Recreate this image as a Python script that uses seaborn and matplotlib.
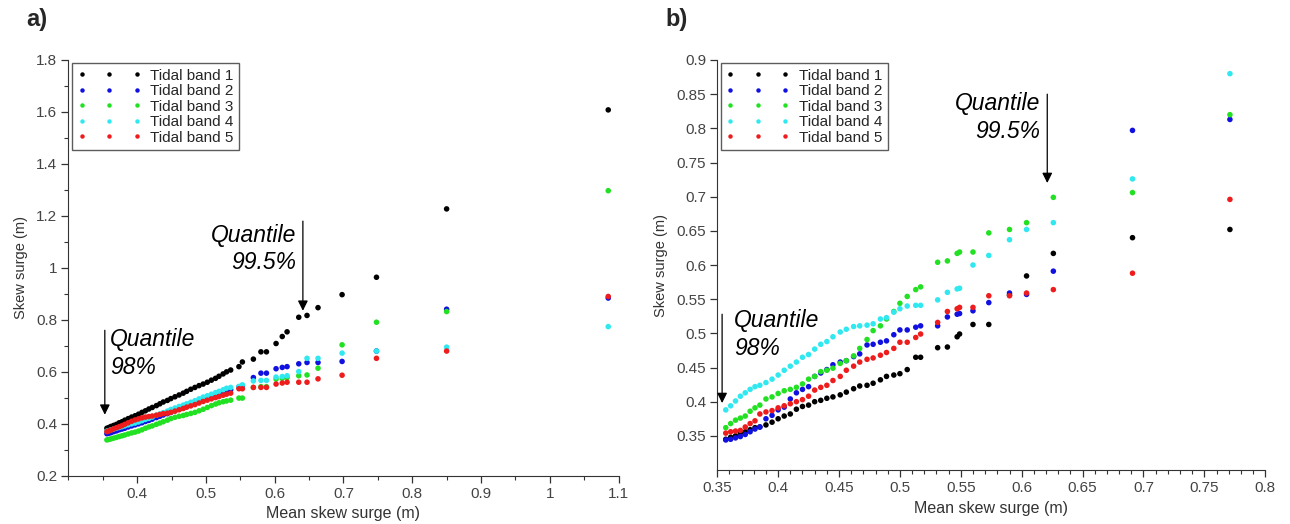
import pandas as pd
import numpy as np
import matplotlib
matplotlib.use("Agg")
import matplotlib.pyplot as plt
import seaborn as sns
from matplotlib.ticker import MultipleLocator, FuncFormatter

# =========================
# DATA
# =========================

bands = ["Tidal band 1", "Tidal band 2", "Tidal band 3", "Tidal band 4", "Tidal band 5"]
band_colors = ["#000000", "#1010e0", "#22e022", "#30e8f0", "#ee1c1c"]

# ---- panel a) ----
x_a = [0.356, 0.359, 0.362, 0.366, 0.370, 0.374, 0.378, 0.382, 0.387, 0.392,
       0.397, 0.402, 0.407, 0.412, 0.417, 0.422, 0.428, 0.433, 0.438, 0.444,
       0.449, 0.455, 0.461, 0.467, 0.472, 0.478, 0.484, 0.490, 0.496, 0.502,
       0.508, 0.514, 0.519, 0.525, 0.530, 0.536,
       0.548, 0.553, 0.569, 0.580, 0.588, 0.602, 0.611, 0.618, 0.635, 0.647,
       0.663, 0.698, 0.748, 0.850, 1.085]

a_band1 = [0.383, 0.386, 0.390, 0.394, 0.398, 0.404, 0.408, 0.414, 0.420, 0.426,
           0.431, 0.437, 0.444, 0.450, 0.457, 0.463, 0.470, 0.477, 0.484, 0.490,
           0.497, 0.504, 0.511, 0.518, 0.525, 0.533, 0.540, 0.547, 0.553, 0.560,
           0.568, 0.575, 0.583, 0.592, 0.600, 0.607,
           0.620, 0.638, 0.649, 0.677, 0.677, 0.709, 0.736, 0.754, 0.810, 0.817,
           0.847, 0.897, 0.964, 1.227, 1.608]
a_band2 = [0.362, 0.364, 0.366, 0.370, 0.373, 0.377, 0.380, 0.383, 0.388, 0.392,
           0.396, 0.400, 0.404, 0.409, 0.413, 0.418, 0.424, 0.429, 0.434, 0.439,
           0.444, 0.450, 0.456, 0.462, 0.467, 0.473, 0.479, 0.485, 0.495, 0.500,
           0.506, 0.512, 0.516, 0.522, 0.527, 0.531,
           0.542, 0.546, 0.578, 0.595, 0.595, 0.612, 0.617, 0.620, 0.631, 0.636,
           0.636, 0.640, 0.680, 0.841, 0.884]
a_band3 = [0.338, 0.340, 0.342, 0.345, 0.348, 0.351, 0.354, 0.357, 0.361, 0.365,
           0.368, 0.372, 0.377, 0.383, 0.388, 0.392, 0.398, 0.403, 0.408, 0.414,
           0.420, 0.425, 0.429, 0.432, 0.436, 0.440, 0.444, 0.450, 0.456, 0.463,
           0.470, 0.476, 0.481, 0.485, 0.488, 0.491,
           0.499, 0.499, 0.540, 0.543, 0.543, 0.572, 0.575, 0.578, 0.585, 0.588,
           0.614, 0.704, 0.791, 0.832, 1.297]
a_band4 = [0.372, 0.374, 0.377, 0.380, 0.383, 0.386, 0.389, 0.392, 0.396, 0.400,
           0.403, 0.407, 0.412, 0.417, 0.421, 0.426, 0.433, 0.438, 0.443, 0.449,
           0.455, 0.461, 0.467, 0.472, 0.477, 0.483, 0.489, 0.496, 0.503, 0.508,
           0.514, 0.520, 0.525, 0.531, 0.537, 0.540,
           0.544, 0.550, 0.565, 0.567, 0.567, 0.580, 0.582, 0.585, 0.601, 0.652,
           0.652, 0.672, 0.680, 0.695, 0.774]
a_band5 = [0.370, 0.373, 0.376, 0.381, 0.385, 0.389, 0.393, 0.398, 0.404, 0.410,
           0.415, 0.419, 0.423, 0.426, 0.428, 0.430, 0.433, 0.436, 0.439, 0.441,
           0.444, 0.449, 0.454, 0.459, 0.464, 0.469, 0.474, 0.480, 0.486, 0.491,
           0.496, 0.501, 0.505, 0.510, 0.514, 0.518,
           0.535, 0.535, 0.540, 0.540, 0.540, 0.553, 0.557, 0.560, 0.560, 0.560,
           0.573, 0.587, 0.652, 0.680, 0.890]

# ---- panel b) ----
x_b = [0.357, 0.361, 0.365, 0.369, 0.373, 0.377, 0.381, 0.385, 0.390, 0.395,
       0.400, 0.405, 0.410, 0.415, 0.420, 0.425, 0.430, 0.435, 0.440, 0.445,
       0.451, 0.456, 0.462, 0.467, 0.473, 0.478, 0.484, 0.489, 0.495, 0.500,
       0.506, 0.513, 0.517,
       0.531, 0.539, 0.547, 0.549, 0.560, 0.573, 0.590, 0.604, 0.626, 0.691, 0.771]

b_band1 = [0.345, 0.348, 0.350, 0.354, 0.356, 0.359, 0.362, 0.363, 0.366, 0.370,
           0.375, 0.379, 0.382, 0.389, 0.393, 0.395, 0.400, 0.402, 0.405, 0.407,
           0.410, 0.414, 0.419, 0.423, 0.424, 0.427, 0.432, 0.437, 0.439, 0.441,
           0.447, 0.465, 0.465,
           0.479, 0.480, 0.495, 0.499, 0.513, 0.513, 0.556, 0.584, 0.617, 0.640, 0.652]
b_band2 = [0.344, 0.345, 0.347, 0.349, 0.352, 0.356, 0.360, 0.363, 0.375, 0.380,
           0.388, 0.392, 0.404, 0.413, 0.418, 0.422, 0.437, 0.442, 0.447, 0.454,
           0.458, 0.460, 0.466, 0.470, 0.483, 0.484, 0.487, 0.489, 0.498, 0.505,
           0.505, 0.509, 0.511,
           0.511, 0.524, 0.528, 0.529, 0.533, 0.545, 0.559, 0.557, 0.591, 0.797, 0.813]
b_band3 = [0.362, 0.368, 0.373, 0.376, 0.379, 0.386, 0.391, 0.395, 0.404, 0.407,
           0.412, 0.416, 0.418, 0.421, 0.426, 0.433, 0.437, 0.444, 0.446, 0.449,
           0.456, 0.460, 0.467, 0.478, 0.491, 0.504, 0.511, 0.521, 0.532, 0.544,
           0.554, 0.564, 0.568,
           0.604, 0.606, 0.617, 0.619, 0.619, 0.647, 0.652, 0.662, 0.699, 0.706, 0.820]
b_band4 = [0.388, 0.394, 0.401, 0.408, 0.413, 0.418, 0.422, 0.424, 0.428, 0.433,
           0.439, 0.446, 0.452, 0.458, 0.465, 0.469, 0.477, 0.484, 0.488, 0.495,
           0.502, 0.506, 0.510, 0.511, 0.512, 0.514, 0.521, 0.523, 0.531, 0.536,
           0.540, 0.541, 0.541,
           0.549, 0.560, 0.565, 0.566, 0.600, 0.614, 0.637, 0.652, 0.662, 0.726, 0.880]
b_band5 = [0.354, 0.356, 0.357, 0.358, 0.363, 0.368, 0.372, 0.382, 0.385, 0.387,
           0.391, 0.394, 0.397, 0.400, 0.403, 0.408, 0.417, 0.421, 0.424, 0.431,
           0.437, 0.446, 0.452, 0.458, 0.462, 0.464, 0.468, 0.472, 0.478, 0.487,
           0.487, 0.494, 0.499,
           0.516, 0.532, 0.536, 0.538, 0.538, 0.555, 0.555, 0.559, 0.564, 0.588, 0.696]


def long_table(x, series):
    frames = []
    for name, y in zip(bands, series):
        frames.append(pd.DataFrame({"mean": x, "skew": y, "band": name}))
    return pd.concat(frames, ignore_index=True)


df_a = long_table(x_a, [a_band1, a_band2, a_band3, a_band4, a_band5])
df_b = long_table(x_b, [b_band1, b_band2, b_band3, b_band4, b_band5])

# =========================
# STYLE
# =========================
sns.set_style("ticks")
plt.rcParams["font.family"] = ["Liberation Sans", "DejaVu Sans"]
plt.rcParams["axes.edgecolor"] = "#333333"
plt.rcParams["xtick.color"] = "#333333"
plt.rcParams["ytick.color"] = "#333333"
plt.rcParams["xtick.labelcolor"] = "#444444"
plt.rcParams["ytick.labelcolor"] = "#444444"

palette = dict(zip(bands, band_colors))
fmt = FuncFormatter(lambda v, p: f"{v:g}")

fig = plt.figure(figsize=(12.9, 5.24), dpi=100)
ax_a = fig.add_axes([0.053, 0.092, 0.4265, 0.7935])
ax_b = fig.add_axes([0.556, 0.103, 0.4248, 0.7825])


def draw_panel(ax, df):
    sns.scatterplot(data=df, x="mean", y="skew", hue="band", palette=palette,
                    s=16, linewidth=0, ax=ax)
    sns.despine(ax=ax)
    ax.set_xlabel("Mean skew surge (m)", fontsize=11.5, color="#333333", labelpad=4)
    ax.set_ylabel("Skew surge (m)", fontsize=10.5, color="#333333", labelpad=6)
    ax.tick_params(which="major", length=5, width=0.9, labelsize=11, pad=3)
    ax.tick_params(which="minor", length=3, width=0.8)
    ax.xaxis.set_major_formatter(fmt)
    ax.yaxis.set_major_formatter(fmt)
    leg = ax.legend(loc="upper left", bbox_to_anchor=(0.006, 0.992), borderaxespad=0,
                    fontsize=11, frameon=True, fancybox=False, numpoints=3,
                    scatterpoints=3, handlelength=4.2, handletextpad=0.6,
                    labelspacing=0.1, borderpad=0.35, markerscale=0.8)
    leg.get_frame().set_edgecolor("#333333")
    leg.get_frame().set_linewidth(1.0)


def quantile_mark(ax, x, y_top, y_bottom, text, tx, ty, ha):
    ax.annotate("", xy=(x, y_bottom), xytext=(x, y_top),
                arrowprops=dict(arrowstyle="-|>,head_length=0.6,head_width=0.3",
                                color="black", lw=0.9, shrinkA=0, shrinkB=0))
    ax.text(tx, ty, text, ha=ha, va="top", fontsize=16.5, style="italic",
            linespacing=1.25, color="black")


# ---- panel a) ----
draw_panel(ax_a, df_a)
ax_a.set_xlim(0.3, 1.1)
ax_a.set_ylim(0.2, 1.8)
ax_a.set_xticks(np.arange(0.4, 1.101, 0.1))
ax_a.xaxis.set_minor_locator(MultipleLocator(0.05))
ax_a.set_yticks(np.arange(0.2, 1.801, 0.2))
ax_a.yaxis.set_minor_locator(MultipleLocator(0.1))
quantile_mark(ax_a, 0.641, 1.18, 0.835, "Quantile\n99.5%", 0.632, 1.17, "right")
quantile_mark(ax_a, 0.353, 0.76, 0.435, "Quantile\n98%", 0.361, 0.768, "left")

# ---- panel b) ----
draw_panel(ax_b, df_b)
ax_b.set_xlim(0.35, 0.8)
ax_b.set_ylim(0.3, 0.9)
ax_b.set_xticks(np.arange(0.35, 0.801, 0.05))
ax_b.xaxis.set_minor_locator(MultipleLocator(0.01))
ax_b.set_yticks(np.arange(0.35, 0.901, 0.05))
quantile_mark(ax_b, 0.621, 0.85, 0.72, "Quantile\n99.5%", 0.615, 0.853, "right")
quantile_mark(ax_b, 0.354, 0.528, 0.398, "Quantile\n98%", 0.364, 0.535, "left")

fig.text(0.020, 0.962, "a)", fontsize=17, fontweight="bold", va="center")
fig.text(0.516, 0.962, "b)", fontsize=17, fontweight="bold", va="center")

fig.savefig("out.png", dpi=100)
